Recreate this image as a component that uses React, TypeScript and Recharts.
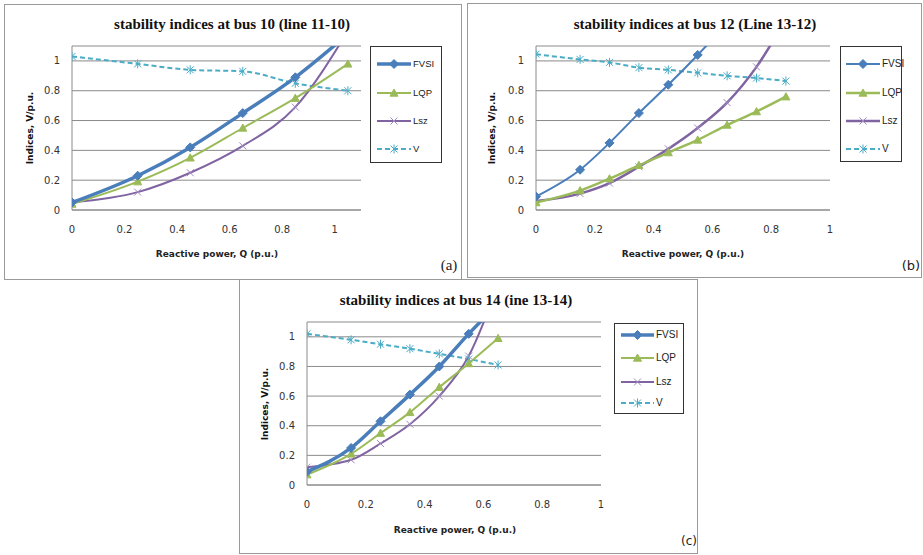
import React from "react";
import { LineChart, Line, XAxis, YAxis, CartesianGrid } from "recharts";

// (a) bus 10, line 11-10
const qBus10 = [0, 0.25, 0.45, 0.65, 0.85, 1.05];
const fvsiBus10 = [0.05, 0.23, 0.42, 0.65, 0.89, 1.18];
const lqpBus10 = [0.04, 0.19, 0.35, 0.55, 0.75, 0.98];
const lszBus10 = [0.05, 0.12, 0.25, 0.43, 0.69, 1.2];
const vBus10 = [1.03, 0.98, 0.94, 0.93, 0.85, 0.8];

// (b) bus 12, line 13-12
const qBus12 = [0, 0.15, 0.25, 0.35, 0.45, 0.55, 0.65, 0.75, 0.85];
const fvsiBus12 = [0.09, 0.27, 0.45, 0.65, 0.84, 1.04, 1.25, null, null];
const lqpBus12 = [0.05, 0.13, 0.21, 0.3, 0.385, 0.47, 0.57, 0.66, 0.76];
const lszBus12 = [0.06, 0.11, 0.18, 0.29, 0.41, 0.55, 0.72, 0.96, 1.28];
const vBus12 = [1.045, 1.01, 0.99, 0.955, 0.94, 0.92, 0.9, 0.885, 0.865];

// (c) bus 14, line 13-14
const qBus14 = [0, 0.15, 0.25, 0.35, 0.45, 0.55, 0.65];
const fvsiBus14 = [0.09, 0.25, 0.43, 0.61, 0.8, 1.02, 1.22];
const lqpBus14 = [0.07, 0.21, 0.35, 0.49, 0.66, 0.82, 0.99];
const lszBus14 = [0.12, 0.17, 0.28, 0.41, 0.6, 0.87, 1.35];
const vBus14 = [1.02, 0.98, 0.95, 0.92, 0.885, 0.85, 0.81];

const qTicks = [0, 0.2, 0.4, 0.6, 0.8, 1];
const indexTicks = [0, 0.2, 0.4, 0.6, 0.8, 1];
const seriesNames = ["FVSI", "LQP", "Lsz", "V"];

const buildRows = (q, fvsi, lqp, lsz, v) =>
  q.map((x, i) => ({ q: x, fvsi: fvsi[i], lqp: lqp[i], lsz: lsz[i], v: v[i] }));

const BLUE = "#4A7EBB";
const GREEN = "#9BBB59";
const PURPLE = "#8064A2";
const AQUA = "#4BACC6";
const GRID = "#8a8a8a";
const Y_MAX = 1.1;

const Marker = ({ kind, cx, cy, color }) => {
  if (kind === "diamond") {
    const r = 4.5;
    return (
      <path
        d={`M${cx},${cy - r}L${cx + r},${cy}L${cx},${cy + r}L${cx - r},${cy}Z`}
        fill={color}
        stroke={color}
      />
    );
  }
  if (kind === "triangle") {
    const r = 4;
    return (
      <path
        d={`M${cx},${cy - r}L${cx + r},${cy + r * 0.8}L${cx - r},${cy + r * 0.8}Z`}
        fill={color}
        stroke={color}
      />
    );
  }
  const r = 3.5;
  return (
    <g stroke={color} strokeWidth={1}>
      <line x1={cx - r} y1={cy - r} x2={cx + r} y2={cy + r} />
      <line x1={cx - r} y1={cy + r} x2={cx + r} y2={cy - r} />
      {kind === "star" && <line x1={cx} y1={cy - r - 1} x2={cx} y2={cy + r + 1} />}
    </g>
  );
};

const dotFor = (kind, color) => (p) => {
  if (p.value == null || p.value > Y_MAX || p.cy == null) return <g key={p.index} />;
  return <Marker key={p.index} kind={kind} cx={p.cx} cy={p.cy} color={color} />;
};

const LegendBox = ({ box, rows, sample, textX, fontSize, fontFamily, widths }) => {
  const specs = [
    { kind: "diamond", color: BLUE, dash: undefined, sw: widths[0], mk: "#4A7EBB" },
    { kind: "triangle", color: GREEN, dash: undefined, sw: widths[1], mk: GREEN },
    { kind: "cross", color: PURPLE, dash: undefined, sw: widths[2], mk: "#a08cc0" },
    { kind: "star", color: AQUA, dash: "5 3", sw: widths[3], mk: AQUA },
  ];
  return (
    <div
      style={{
        position: "absolute",
        left: box.x,
        top: box.y,
        width: box.w,
        height: box.h,
        border: "1px solid #333",
        boxSizing: "border-box",
        background: "#fff",
      }}
    >
      {specs.map((s, i) => (
        <React.Fragment key={i}>
          <svg
            width={sample[1] - sample[0] + 2}
            height={12}
            style={{ position: "absolute", left: sample[0] - 1, top: rows[i] - 6 }}
          >
            <line
              x1={1}
              y1={6}
              x2={sample[1] - sample[0] + 1}
              y2={6}
              stroke={s.color}
              strokeWidth={s.sw}
              strokeDasharray={s.dash}
            />
            <Marker kind={s.kind} cx={(sample[1] - sample[0]) / 2 + 1} cy={6} color={s.mk} />
          </svg>
          <div
            style={{
              position: "absolute",
              left: textX,
              top: rows[i] - fontSize * 0.6,
              fontSize,
              lineHeight: 1.2,
              fontFamily,
              color: "#222",
            }}
          >
            {seriesNames[i]}
          </div>
        </React.Fragment>
      ))}
    </div>
  );
};

const Y_W = 30;
const X_H = 30;

const Panel = ({ p }) => {
  const w = p.box.w - 2;
  const h = p.box.h - 2;
  const ox = p.box.x + 1;
  const oy = p.box.y + 1;
  const margin = {
    top: p.plot.y1 - oy,
    left: p.plot.x1 - ox - Y_W,
    right: ox + w - p.plot.x2,
    bottom: oy + h - p.plot.y2 - X_H,
  };
  const tickStyle = { fill: "#333", fontSize: 10, fontFamily: "DejaVu Sans" };
  return (
    <>
      <div
        style={{
          position: "absolute",
          left: p.box.x,
          top: p.box.y,
          width: p.box.w,
          height: p.box.h,
          border: "1px solid #9a9a9a",
          boxSizing: "border-box",
          background: "#fff",
        }}
      >
        <LineChart width={w} height={h} data={p.rows} margin={margin}>
          <CartesianGrid vertical={false} stroke={GRID} />
          <XAxis
            dataKey="q"
            type="number"
            domain={[0, p.xMax]}
            ticks={qTicks}
            allowDataOverflow
            height={X_H}
            tickLine={false}
            tickSize={0}
            tickMargin={16}
            axisLine={{ stroke: GRID }}
            tick={tickStyle}
            tickFormatter={(v) => String(v)}
          />
          <YAxis
            type="number"
            domain={[0, Y_MAX]}
            ticks={indexTicks}
            allowDataOverflow
            width={Y_W}
            tickLine={false}
            tickSize={0}
            tickMargin={12}
            axisLine={{ stroke: GRID }}
            tick={tickStyle}
            tickFormatter={(v) => String(v)}
          />
          <XAxis
            xAxisId="frame"
            orientation="top"
            type="number"
            domain={[0, p.xMax]}
            height={0}
            tick={false}
            tickLine={false}
            axisLine={{ stroke: GRID }}
          />
          <YAxis
            yAxisId="frame"
            orientation="right"
            type="number"
            domain={[0, Y_MAX]}
            width={0}
            tick={false}
            tickLine={false}
            axisLine={{ stroke: GRID }}
          />
          <Line
            type="monotone"
            dataKey="v"
            stroke={AQUA}
            strokeWidth={p.widths[3]}
            strokeDasharray="5 3"
            dot={dotFor("star", AQUA)}
            activeDot={false}
            isAnimationActive={false}
          />
          <Line
            type="monotone"
            dataKey="lsz"
            stroke={PURPLE}
            strokeWidth={p.widths[2]}
            dot={dotFor("cross", "#a08cc0")}
            activeDot={false}
            isAnimationActive={false}
          />
          <Line
            type="monotone"
            dataKey="lqp"
            stroke={GREEN}
            strokeWidth={p.widths[1]}
            dot={dotFor("triangle", GREEN)}
            activeDot={false}
            isAnimationActive={false}
          />
          <Line
            type="monotone"
            dataKey="fvsi"
            stroke={BLUE}
            strokeWidth={p.widths[0]}
            dot={dotFor("diamond", BLUE)}
            activeDot={false}
            isAnimationActive={false}
          />
        </LineChart>
      </div>
      <div
        style={{
          position: "absolute",
          left: p.title.x - 200,
          top: p.title.y - 10,
          width: 400,
          textAlign: "center",
          fontFamily: "Liberation Serif",
          fontWeight: "bold",
          fontSize: 15,
          lineHeight: "20px",
          color: "#111",
        }}
      >
        {p.title.text}
      </div>
      <div
        style={{
          position: "absolute",
          left: p.xTitle.x - 100,
          top: p.xTitle.y - 7,
          width: 200,
          textAlign: "center",
          fontFamily: "DejaVu Sans",
          fontWeight: "bold",
          fontSize: 9,
          lineHeight: "14px",
          color: "#222",
        }}
      >
        Reactive power, Q (p.u.)
      </div>
      <div
        style={{
          position: "absolute",
          left: p.yTitle.x,
          top: p.yTitle.y,
          transform: "translate(-50%, -50%) rotate(-90deg)",
          fontFamily: "DejaVu Sans",
          fontWeight: "bold",
          fontSize: 9,
          lineHeight: "14px",
          whiteSpace: "nowrap",
          color: "#111",
        }}
      >
        Indices, V/p.u.
      </div>
      <div
        style={{
          position: "absolute",
          left: p.tag.x,
          top: p.tag.y,
          transform: "translate(-50%, -50%)",
          fontFamily: p.tag.font,
          fontSize: p.tag.size,
          color: "#222",
        }}
      >
        {p.tag.text}
      </div>
      <LegendBox {...p.legend} widths={p.widths} />
    </>
  );
};

const panels = [
  {
    rows: buildRows(qBus10, fvsiBus10, lqpBus10, lszBus10, vBus10),
    box: { x: 4, y: 4, w: 458, h: 276 },
    plot: { x1: 72, y1: 46, x2: 361, y2: 210 },
    xMax: 1.1,
    widths: [3.5, 2, 2, 2],
    title: { x: 232, y: 24, text: "stability indices at bus 10 (line 11-10)" },
    xTitle: { x: 217, y: 254 },
    yTitle: { x: 30, y: 128 },
    tag: { x: 449, y: 265, text: "(a)", font: "Liberation Serif", size: 15 },
    legend: {
      box: { x: 370, y: 46, w: 72, h: 117 },
      rows: [17, 46, 74, 102],
      sample: [6, 40],
      textX: 42,
      fontSize: 9.5,
      fontFamily: "'Liberation Sans Narrow', 'Liberation Sans', sans-serif",
    },
  },
  {
    rows: buildRows(qBus12, fvsiBus12, lqpBus12, lszBus12, vBus12),
    box: { x: 467, y: 3, w: 455, h: 275 },
    plot: { x1: 536, y1: 46, x2: 830, y2: 210 },
    xMax: 1,
    widths: [2, 2.5, 2.5, 2],
    title: { x: 695, y: 24, text: "stability indices at bus 12 (Line 13-12)" },
    xTitle: { x: 683, y: 254 },
    yTitle: { x: 492, y: 128 },
    tag: { x: 911, y: 265, text: "(b)", font: "DejaVu Sans", size: 13 },
    legend: {
      box: { x: 840, y: 46, w: 62, h: 116 },
      rows: [17, 46, 74, 102],
      sample: [5, 39],
      textX: 41,
      fontSize: 10,
      fontFamily: "'Liberation Sans', sans-serif",
    },
  },
  {
    rows: buildRows(qBus14, fvsiBus14, lqpBus14, lszBus14, vBus14),
    box: { x: 239, y: 279, w: 459, h: 275 },
    plot: { x1: 307, y1: 322, x2: 601, y2: 485 },
    xMax: 1,
    widths: [3.5, 2, 2, 2],
    title: { x: 456, y: 300, text: "stability indices at bus 14 (ine 13-14)" },
    xTitle: { x: 455, y: 530 },
    yTitle: { x: 265, y: 404 },
    tag: { x: 689, y: 541, text: "(c)", font: "DejaVu Sans", size: 12 },
    legend: {
      box: { x: 614, y: 323, w: 70, h: 91 },
      rows: [11, 34, 58, 79],
      sample: [6, 39],
      textX: 41,
      fontSize: 10,
      fontFamily: "'Liberation Sans', sans-serif",
    },
  },
];

const App = () => {
  return (
    <div
      style={{
        position: "absolute",
        left: 0,
        top: 0,
        width: 923,
        height: 555,
        background: "#fff",
        overflow: "hidden",
      }}
    >
      {panels.map((p, i) => (
        <Panel key={i} p={p} />
      ))}
    </div>
  );
};

export default App;
